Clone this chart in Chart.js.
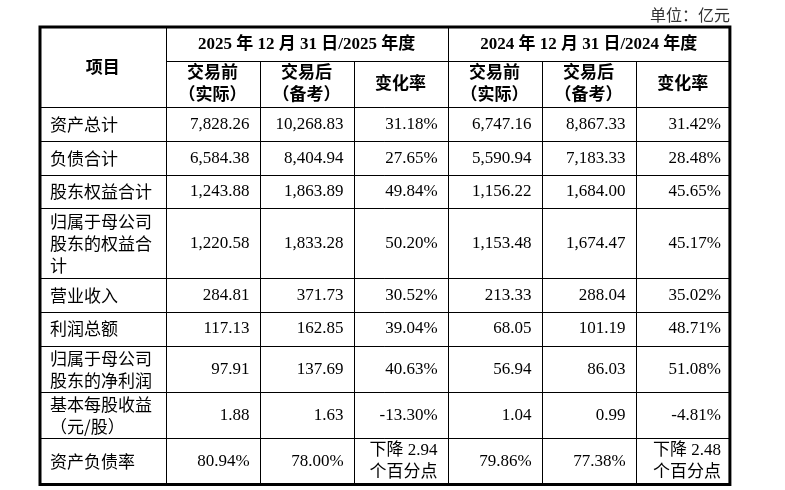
<!DOCTYPE html>
<html lang="zh">
<head>
<meta charset="utf-8">
<title>交易前后主要财务数据</title>
<script src="https://cdn.jsdelivr.net/npm/chart.js@4.4.1/dist/chart.umd.min.js"></script>
<style>
  html, body { margin: 0; padding: 0; background: #fff; overflow: hidden; }
  canvas { display: block; }
</style>
</head>
<body>
<canvas id="table" width="785" height="490"></canvas>
<script>
// ---- data ----
const unitLabel = "单位：亿元";
const itemHeader = "项目";
const periodLabels = ["2025 年 12 月 31 日/2025 年度", "2024 年 12 月 31 日/2024 年度"];
const subHeaders = [["交易前", "（实际）"], ["交易后", "（备考）"], ["变化率"]];

const items = [
  "资产总计", "负债合计", "股东权益合计", "归属于母公司股东的权益合计",
  "营业收入", "利润总额", "归属于母公司股东的净利润", "基本每股收益（元/股）", "资产负债率"
];
const before2025 = [7828.26, 6584.38, 1243.88, 1220.58, 284.81, 117.13, 97.91, 1.88, 80.94];
const after2025  = [10268.83, 8404.94, 1863.89, 1833.28, 371.73, 162.85, 137.69, 1.63, 78.00];
const change2025 = [31.18, 27.65, 49.84, 50.20, 30.52, 39.04, 40.63, -13.30, -2.94];
const before2024 = [6747.16, 5590.94, 1156.22, 1153.48, 213.33, 68.05, 56.94, 1.04, 79.86];
const after2024  = [8867.33, 7183.33, 1684.00, 1674.47, 288.04, 101.19, 86.03, 0.99, 77.38];
const change2024 = [31.42, 28.48, 45.65, 45.17, 35.02, 48.71, 51.08, -4.81, -2.48];
const ratioItems = ["资产负债率"]; // values already in %, change in percentage points

// ---- layout (table units ~ px) ----
const colW = [125.6, 94, 94, 94, 94, 94, 94.3];
const headH = [33, 46.3];
const rowH = [34, 33.7, 33.3, 70, 33.7, 34, 46.3, 46, 46.2];
const lineH = 22;
const pad = 10;

const colEdges = colW.reduce((a, w) => { a.push(a[a.length - 1] + w); return a; }, [0]);
const rowEdges = headH.concat(rowH).reduce((a, h) => { a.push(a[a.length - 1] + h); return a; }, [0]);
const totalW = colEdges[colEdges.length - 1];
const totalH = rowEdges[rowEdges.length - 1];

const numFont = "17px 'Liberation Serif', 'Noto Sans CJK SC'";
const cjkFont = "17px 'Noto Sans CJK SC', 'Liberation Serif'";
const boldFont = "bold 17px 'Liberation Serif', 'Noto Sans CJK SC'";

function fmtAmount(v) {
  const parts = v.toFixed(2).split(".");
  parts[0] = parts[0].replace(/\B(?=(\d{3})+(?!\d))/g, ",");
  return parts.join(".");
}
function fmtValue(v, i) {
  return fmtAmount(v) + (ratioItems.includes(items[i]) ? "%" : "");
}
function fmtChange(v, i) {
  if (ratioItems.includes(items[i])) {
    return (v < 0 ? "下降 " : "上升 ") + Math.abs(v).toFixed(2) + " 个百分点";
  }
  return v.toFixed(2) + "%";
}

const columns = [
  { values: before2025, fmt: fmtValue },
  { values: after2025, fmt: fmtValue },
  { values: change2025, fmt: fmtChange },
  { values: before2024, fmt: fmtValue },
  { values: after2024, fmt: fmtValue },
  { values: change2024, fmt: fmtChange }
];

// wrap text to a width: by words if it has spaces, else by characters
function wrap(ctx, text, maxW) {
  const tokens = text.includes(" ") ? text.split(" ") : text.split("");
  const sep = text.includes(" ") ? " " : "";
  const lines = [];
  let cur = "";
  tokens.forEach(t => {
    const test = cur ? cur + sep + t : t;
    if (cur && ctx.measureText(test).width > maxW) {
      lines.push(cur);
      cur = t;
    } else {
      cur = test;
    }
  });
  if (cur) lines.push(cur);
  return lines;
}

function drawLines(ctx, lines, x, yMid) {
  const y0 = yMid - (lines.length - 1) * lineH / 2;
  lines.forEach((l, k) => ctx.fillText(l, x, y0 + k * lineH));
}

const tableDrawer = {
  id: "tableDrawer",
  afterDatasetsDraw(chart) {
    const { ctx, scales: { x, y } } = chart;
    const px = v => Math.round(x.getPixelForValue(v)) + 0.5;
    const py = v => Math.round(y.getPixelForValue(v)) + 0.5;
    const left = x.getPixelForValue(0), right = x.getPixelForValue(totalW);
    const top = y.getPixelForValue(0), bottom = y.getPixelForValue(totalH);

    ctx.save();
    ctx.strokeStyle = "#000";
    ctx.lineWidth = 1;
    ctx.beginPath();
    // vertical lines
    for (let c = 1; c < colEdges.length - 1; c++) {
      const full = c === 1 || c === 4;
      ctx.moveTo(px(colEdges[c]), full ? top : py(rowEdges[1]));
      ctx.lineTo(px(colEdges[c]), bottom);
    }
    // horizontal lines
    ctx.moveTo(px(colEdges[1]), py(rowEdges[1]));
    ctx.lineTo(right, py(rowEdges[1]));
    for (let r = 2; r < rowEdges.length - 1; r++) {
      ctx.moveTo(left, py(rowEdges[r]));
      ctx.lineTo(right, py(rowEdges[r]));
    }
    ctx.stroke();
    ctx.lineWidth = 3;
    ctx.strokeRect(left, top - 1, right - left, bottom - top + 1);

    ctx.fillStyle = "#000";
    ctx.textBaseline = "middle";

    // unit
    ctx.font = "16px 'Noto Sans CJK SC'";
    ctx.fillStyle = "#333";
    ctx.textAlign = "right";
    ctx.fillText(unitLabel, right, 15);
    ctx.fillStyle = "#000";

    // headers
    ctx.font = boldFont;
    ctx.textAlign = "center";
    const cx = (a, b) => (x.getPixelForValue(colEdges[a]) + x.getPixelForValue(colEdges[b])) / 2;
    const cy = (a, b) => (y.getPixelForValue(rowEdges[a]) + y.getPixelForValue(rowEdges[b])) / 2;
    ctx.fillText(itemHeader, cx(0, 1), cy(0, 2) + 1);
    periodLabels.forEach((p, k) => ctx.fillText(p, cx(1 + 3 * k, 4 + 3 * k), cy(0, 1)));
    for (let k = 0; k < 6; k++) {
      drawLines(ctx, subHeaders[k % 3], cx(k + 1, k + 2), cy(1, 2));
    }

    // row labels
    ctx.font = cjkFont;
    ctx.textAlign = "left";
    items.forEach((name, i) => {
      const lines = wrap(ctx, name, colW[0] - 2 * pad + 2);
      drawLines(ctx, lines, left + pad, cy(i + 2, i + 3));
    });

    // values, placed at the dataset points
    ctx.font = numFont;
    ctx.textAlign = "right";
    chart.data.datasets.forEach((ds, d) => {
      const meta = chart.getDatasetMeta(d);
      const xr = x.getPixelForValue(colEdges[d + 2]) - pad + (d === 5 ? 1 : 0);
      meta.data.forEach((el, i) => {
        const lines = wrap(ctx, ds.data[i].text, colW[d + 1] - 2 * pad);
        drawLines(ctx, lines, xr, el.y);
      });
    });
    ctx.restore();
  }
};

const datasets = columns.map((col, c) => ({
  label: "col" + c,
  data: col.values.map((v, i) => ({
    x: (colEdges[c + 1] + colEdges[c + 2]) / 2,
    y: (rowEdges[i + 2] + rowEdges[i + 3]) / 2,
    text: col.fmt(v, i)
  })),
  pointRadius: 0,
  showLine: false
}));

new Chart(document.getElementById("table"), {
  type: "scatter",
  data: { datasets: datasets },
  options: {
    responsive: false,
    animation: false,
    events: [],
    layout: { padding: { left: 40, right: 785 - 40 - totalW, top: 28, bottom: 490 - 28 - totalH } },
    scales: {
      x: { type: "linear", min: 0, max: totalW, display: false },
      y: { type: "linear", min: 0, max: totalH, reverse: true, display: false }
    },
    plugins: { legend: { display: false }, tooltip: { enabled: false } }
  },
  plugins: [tableDrawer]
});
</script>
</body>
</html>
